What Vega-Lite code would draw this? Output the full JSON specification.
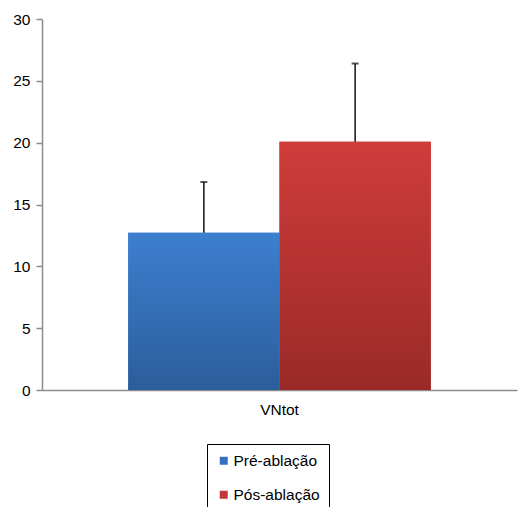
{
  "$schema": "https://vega.github.io/schema/vega-lite/v6.json",
  "width": 475,
  "height": 371,
  "autosize": {"type": "none"},
  "padding": {"left": 42, "top": 19, "right": 1, "bottom": 117},
  "config": {
    "view": {"stroke": null},
    "font": "Liberation Sans",
    "axis": {"domainColor": "#8c8c8c", "domainWidth": 1.5, "tickColor": "#8c8c8c", "tickWidth": 1.5, "grid": false, "labelColor": "#000", "labelFontSize": 15.5, "labelFont": "Liberation Sans"}
  },
  "data": {"values": [
    {"cat": "VNtot", "group": "Pré-ablação", "value": 12.72, "upper": 16.82},
    {"cat": "VNtot", "group": "Pós-ablação", "value": 20.07, "upper": 26.4}
  ]},
  "encoding": {
    "x": {"field": "cat", "type": "nominal", "scale": {"paddingInner": 0, "paddingOuter": 0},
      "axis": {"title": null, "ticks": false, "labelAngle": 0, "labelPadding": 12}},
    "xOffset": {"field": "group", "type": "nominal", "sort": ["Pré-ablação", "Pós-ablação"], "scale": {"paddingInner": 0, "paddingOuter": 0.57}}
  },
  "layer": [
    {
      "mark": {"type": "bar"},
      "encoding": {
        "y": {"field": "value", "type": "quantitative", "scale": {"domain": [0, 30]},
          "axis": {"title": null, "values": [0, 5, 10, 15, 20, 25, 30], "tickSize": 6, "labelPadding": 6}},
        "color": {"field": "group", "type": "nominal", "sort": ["Pré-ablação", "Pós-ablação"],
          "scale": {"domain": ["Pré-ablação", "Pós-ablação"], "range": ["#3470c0", "#c0393a"]},
          "legend": {"title": null, "orient": "none", "legendX": 165, "legendY": 425, "direction": "vertical",
            "strokeColor": "#000", "padding": 9, "symbolType": "square", "symbolSize": 64, "symbolStrokeWidth": 0,
            "labelFontSize": 15.5, "labelColor": "#000", "labelOffset": 2, "rowPadding": 17, "labelFont": "Liberation Sans"}}
      }
    },
    {
      "transform": [{"filter": "datum.group === 'Pré-ablação'"}],
      "mark": {"type": "bar", "color": {"gradient": "linear", "x1": 0, "y1": 0, "x2": 0, "y2": 1,
        "stops": [{"offset": 0, "color": "#3d7fd0"}, {"offset": 1, "color": "#2c5d9b"}]}},
      "encoding": {"y": {"field": "value", "type": "quantitative"}}
    },
    {
      "transform": [{"filter": "datum.group === 'Pós-ablação'"}],
      "mark": {"type": "bar", "color": {"gradient": "linear", "x1": 0, "y1": 0, "x2": 0, "y2": 1,
        "stops": [{"offset": 0, "color": "#cf3c3a"}, {"offset": 1, "color": "#9a2a27"}]}},
      "encoding": {"y": {"field": "value", "type": "quantitative"}}
    },
    {
      "mark": {"type": "rule", "color": "#111", "strokeWidth": 1.5},
      "encoding": {"y": {"field": "value", "type": "quantitative"}, "y2": {"field": "upper"}}
    },
    {
      "mark": {"type": "tick", "color": "#111", "thickness": 2, "size": 7, "orient": "horizontal"},
      "encoding": {"y": {"field": "upper", "type": "quantitative"}}
    }
  ]
}
